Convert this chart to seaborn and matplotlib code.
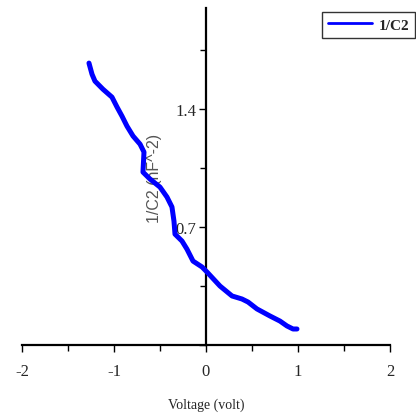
import numpy as np
import pandas as pd
import matplotlib.pyplot as plt
import seaborn as sns
from matplotlib.ticker import MultipleLocator, FuncFormatter

# データ (電圧 vs 1/C^2)
voltage = [-1.272, -1.239, -1.207, -1.120, -1.022, -0.967, -0.913, -0.859, -0.793, -0.717,
           -0.674, -0.685, -0.609, -0.500, -0.424, -0.370, -0.348, -0.337, -0.261, -0.207,
           -0.141, -0.043, 0.011, 0.152, 0.283, 0.391, 0.457, 0.554, 0.696, 0.804,
           0.880, 0.946, 0.989]
inv_c2 = [1.673, 1.607, 1.566, 1.518, 1.471, 1.412, 1.358, 1.299, 1.240, 1.192,
          1.145, 1.026, 0.985, 0.937, 0.878, 0.819, 0.735, 0.658, 0.617, 0.569,
          0.498, 0.463, 0.433, 0.350, 0.291, 0.273, 0.255, 0.214, 0.172, 0.142,
          0.113, 0.095, 0.095]

df = pd.DataFrame({'voltage': voltage, 'inv_c2': inv_c2})

sns.set_style('white')
plt.rcParams['font.family'] = ['Liberation Serif', 'DejaVu Serif']
plt.rcParams['axes.unicode_minus'] = False

fig = plt.figure(figsize=(4.16, 4.14), dpi=100)
ax = fig.add_axes([22 / 416, 68 / 414, 368 / 416, 337 / 414])

sns.lineplot(data=df, x='voltage', y='inv_c2', sort=False, color='#0000ff',
             linewidth=3.6, label='1/C2', ax=ax, zorder=3)

ax.set_xlim(-2, 2)
ax.set_ylim(0, 2.0)

# 軸を原点に配置
ax.spines['left'].set_position(('data', 0))
ax.spines['bottom'].set_position(('data', 0))
ax.spines['top'].set_visible(False)
ax.spines['right'].set_visible(False)
for s in ['left', 'bottom']:
    ax.spines[s].set_color('black')
    ax.spines[s].set_linewidth(1.6)

ax.xaxis.set_major_locator(MultipleLocator(1))
ax.xaxis.set_minor_locator(MultipleLocator(0.5))
ax.yaxis.set_major_locator(MultipleLocator(0.7))
ax.yaxis.set_minor_locator(MultipleLocator(0.35))
ax.yaxis.set_major_formatter(FuncFormatter(lambda v, p: '' if abs(v) < 1e-9 else f'{v:.1f}'))

ax.tick_params(axis='both', which='both', direction='out', color='black', width=1,
               bottom=True, left=True)
ax.tick_params(axis='both', which='major', length=5, labelsize=12)
ax.tick_params(axis='both', which='minor', length=4)
ax.tick_params(axis='x', pad=8)
ax.tick_params(axis='y', pad=2)

ax.set_xlabel('Voltage (volt)', fontsize=10)
ax.xaxis.set_label_coords(0.5, -0.155)
ax.set_ylabel('')
# 縦軸ラベルは曲線の下に描く
ax.text(155 / 416, 1 - 178 / 414, '1/C2 (nF^-2)', rotation=90, ha='center', va='center',
        fontsize=11.5, color='#555555', family=['Liberation Sans', 'DejaVu Sans'],
        transform=fig.transFigure, zorder=1)

leg = ax.legend(loc='upper left', bbox_to_anchor=(322 / 416, 1 - 13 / 414),
                bbox_transform=fig.transFigure, fancybox=False, frameon=True,
                edgecolor='black', prop={'weight': 'bold', 'size': 11},
                handlelength=2.9, handletextpad=0.4, borderpad=0.4, borderaxespad=0)
leg.get_frame().set_linewidth(1)
for line in leg.get_lines():
    line.set_linewidth(2)

plt.savefig('out.png', dpi=100)
